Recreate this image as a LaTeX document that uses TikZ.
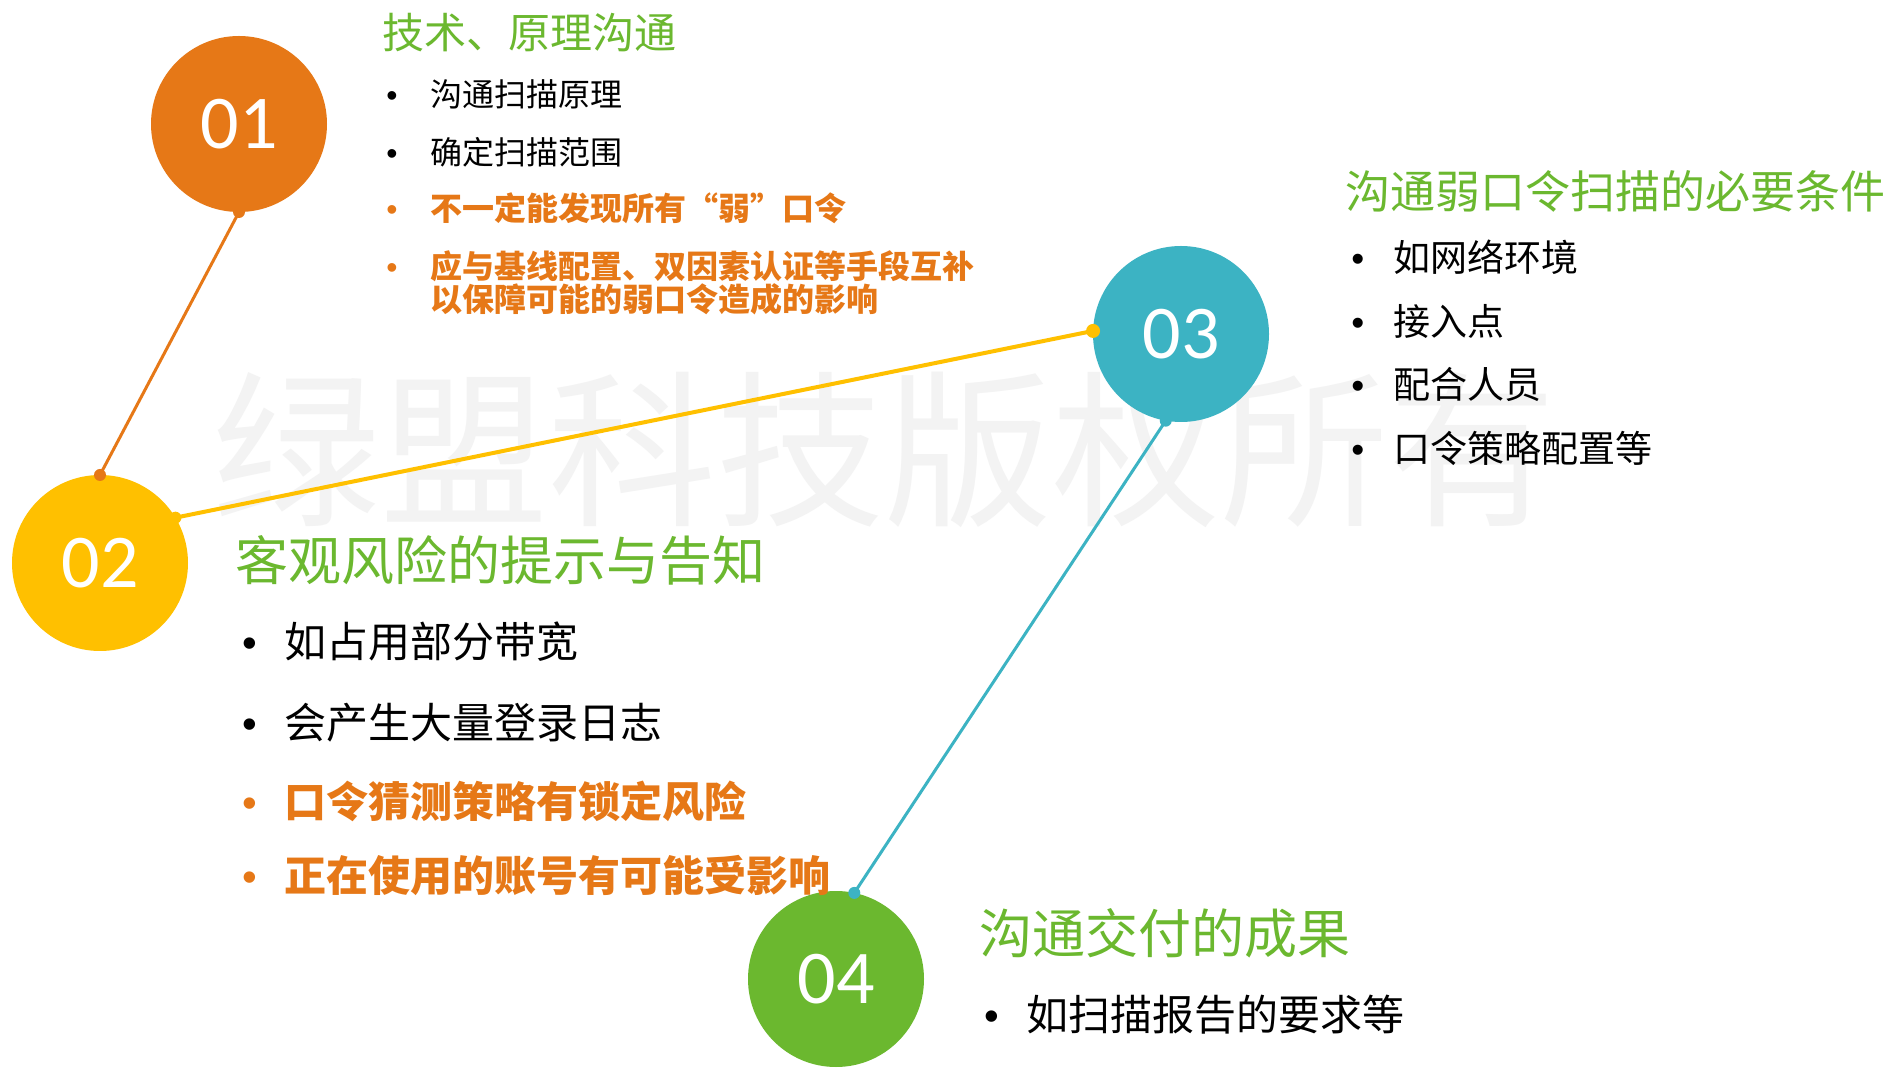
\documentclass[tikz,border=0pt]{standalone}
\usepackage{fontspec}
\newfontfamily\cjk{Noto Sans CJK SC}
\newfontfamily\numf{Carlito}
\newfontfamily\bulf{Liberation Sans}
\definecolor{orng}{HTML}{E67817}
\definecolor{yelw}{HTML}{FFC000}
\definecolor{teal3}{HTML}{3CB3C3}
\definecolor{grn}{HTML}{6BB82F}
\definecolor{wmgray}{HTML}{F3F3F3}
\begin{document}
\begin{tikzpicture}[x=0.5pt,y=-0.5pt,
  ball/.style={circle, minimum size=88pt, inner sep=0pt, outer sep=0pt, text=white,
    font=\numf\fontsize{38}{38}\selectfont},
  ttl/.style={anchor=west, inner sep=0pt, text=grn},
  itm/.style={anchor=west, inner sep=0pt, text=black},
  hot/.style={anchor=west, inner sep=0pt, text=orng},
  bul/.style={anchor=base west, inner sep=0pt}
]
\useasboundingbox (0,0) rectangle (1895,1068);
\fill[white] (0,0) rectangle (1895,1068);

% watermark
\node[inner sep=0pt, text=wmgray, font=\cjk\fontsize{84}{84}\selectfont] (wm) at (884,450) {绿盟科技版权所有};

% circles
\node[ball, fill=orng] (c1) at (239,124) {01};
\node[ball, fill=yelw] (c2) at (100,563) {02};
\node[ball, fill=teal3] (c3) at (1181,334) {03};
\node[ball, fill=grn] (c4) at (836,979) {04};

% connectors
\draw[orng, line width=1.5pt] (c1.south) -- (c2.north);
\draw[yelw, line width=2pt] (c2.31) -- (c3.178);
\draw[teal3, line width=1.5pt] (c3.-100) -- (c4.78);
\fill[orng] (c1.south) circle (3pt) (c2.north) circle (3pt);
\fill[yelw] (c2.31) circle (3pt) (c3.178) circle (3.5pt);
\fill[teal3] (c3.-100) circle (3pt) (c4.78) circle (3pt);

% section 1
\begin{scope}[font=\cjk\fontsize{16}{16}\selectfont]
\node[ttl, font=\cjk\fontsize{21}{21}\selectfont] (t1) at (382,33) {技术、原理沟通};
\node[itm] (i11) at (430,94) {沟通扫描原理};
\node[itm] (i12) at (430,152) {确定扫描范围};
\node[hot, font=\cjk\bfseries\fontsize{16}{16}\selectfont] (i13) at (430,208) {不一定能发现所有“弱”口令};
\node[hot, anchor=north west, align=left, font=\cjk\bfseries\fontsize{16}{14.5}\selectfont] (i14) at (430,250) {应与基线配置、双因素认证等手段互补\\以保障可能的弱口令造成的影响};
\end{scope}
\begin{scope}[font=\bulf\fontsize{16}{16}\selectfont]
\node[bul] (b11) at ([xshift=-22pt]i11.base west) {•};
\node[bul] (b12) at ([xshift=-22pt]i12.base west) {•};
\node[bul, text=orng] (b13) at ([xshift=-22pt]i13.base west) {•};
\node[bul, text=orng] (b14) at ([xshift=-22pt,yshift=-29pt]i13.base west) {•};
\end{scope}

% section 2
\begin{scope}[font=\cjk\fontsize{21}{21}\selectfont]
\node[ttl, font=\cjk\fontsize{26.5}{26.5}\selectfont] (t2) at (235,560) {客观风险的提示与告知};
\node[itm] (i21) at (284,642) {如占用部分带宽};
\node[itm] (i22) at (284,723) {会产生大量登录日志};
\node[hot, font=\cjk\bfseries\fontsize{21}{21}\selectfont] (i23) at (284,801) {口令猜测策略有锁定风险};
\node[hot, font=\cjk\bfseries\fontsize{21}{21}\selectfont] (i24) at (284,876) {正在使用的账号有可能受影响};
\end{scope}
\begin{scope}[font=\bulf\fontsize{21}{21}\selectfont]
\node[bul] (b21) at ([xshift=-21pt]i21.base west) {•};
\node[bul] (b22) at ([xshift=-21pt]i22.base west) {•};
\node[bul, text=orng] (b23) at ([xshift=-21pt]i23.base west) {•};
\node[bul, text=orng] (b24) at ([xshift=-21pt]i24.base west) {•};
\end{scope}

% section 3
\begin{scope}[font=\cjk\fontsize{18.5}{18.5}\selectfont]
\node[ttl, font=\cjk\fontsize{22.5}{22.5}\selectfont] (t3) at (1345,191) {沟通弱口令扫描的必要条件};
\node[itm] (i31) at (1393,257) {如网络环境};
\node[itm] (i32) at (1393,321) {接入点};
\node[itm] (i33) at (1393,384) {配合人员};
\node[itm] (i34) at (1393,448) {口令策略配置等};
\end{scope}
\begin{scope}[font=\bulf\fontsize{18.5}{18.5}\selectfont]
\node[bul] (b31) at ([xshift=-21pt]i31.base west) {•};
\node[bul] (b32) at ([xshift=-21pt]i32.base west) {•};
\node[bul] (b33) at ([xshift=-21pt]i33.base west) {•};
\node[bul] (b34) at ([xshift=-21pt]i34.base west) {•};
\end{scope}

% section 4
\begin{scope}[font=\cjk\fontsize{21}{21}\selectfont]
\node[ttl, font=\cjk\fontsize{26.5}{26.5}\selectfont] (t4) at (979,933) {沟通交付的成果};
\node[itm] (i41) at (1026,1015) {如扫描报告的要求等};
\end{scope}
\begin{scope}[font=\bulf\fontsize{21}{21}\selectfont]
\node[bul] (b41) at ([xshift=-21pt]i41.base west) {•};
\end{scope}
\end{tikzpicture}
\end{document}
